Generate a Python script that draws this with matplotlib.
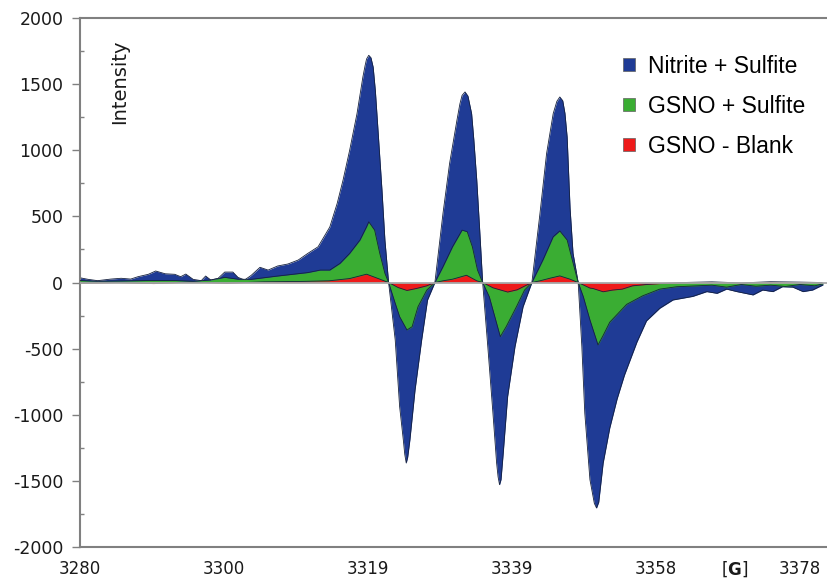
import matplotlib
matplotlib.use("Agg")
import matplotlib.pyplot as plt
from matplotlib.patches import Patch
from matplotlib.ticker import MultipleLocator

# ---- data ----
field_blue = [3280.0, 3281.1, 3282.4, 3284.2, 3285.6, 3286.9, 3287.9, 3289.3, 3290.3, 3291.6,
              3292.9, 3293.7, 3294.4, 3295.4, 3296.5, 3297.1, 3297.8, 3298.8, 3299.7, 3300.8,
              3301.5, 3302.4, 3303.3, 3304.5, 3305.6, 3306.9, 3308.3, 3309.7, 3311.0, 3312.4,
              3314.0, 3315.0, 3315.8, 3316.7, 3317.7, 3318.5, 3318.8, 3319.0, 3319.3, 3319.6,
              3319.9, 3320.2, 3320.5, 3321.1, 3321.5, 3322.0, 3322.9, 3323.5, 3324.0, 3324.2,
              3324.4, 3324.6, 3324.9, 3325.6, 3326.5, 3327.3, 3328.3, 3329.4, 3330.3, 3331.3,
              3331.7, 3332.0, 3332.4, 3332.8, 3333.3, 3333.6, 3334.0, 3334.4, 3334.8, 3335.5,
              3336.2, 3336.7, 3336.9, 3337.1, 3337.3, 3337.6, 3338.2, 3339.2, 3340.3, 3341.5,
              3342.6, 3343.5, 3344.4, 3344.9, 3345.3, 3345.7, 3346.0, 3346.3, 3346.7, 3347.1,
              3347.8, 3348.3, 3348.7, 3349.4, 3350.0, 3350.3, 3350.6, 3351.2, 3352.1, 3353.1,
              3354.1, 3355.8, 3357.1, 3358.9, 3360.7, 3363.4, 3365.3, 3366.7, 3368.0, 3369.4,
              3371.6, 3372.9, 3374.3, 3375.6, 3377.0, 3378.4, 3379.7, 3381.1]
nitrite_sulfite = [36, 24, 14, 26, 32, 26, 44, 62, 87, 66,
                   62, 44, 64, 24, 14, 49, 19, 32, 79, 79,
                   39, 19, 54, 115, 94, 125, 140, 170, 220, 270,
                   420, 598, 774, 1000, 1277, 1554, 1640, 1690, 1718, 1700,
                   1629, 1450, 1202, 698, 321, 0, -434, -938, -1189, -1300,
                   -1365, -1320, -1189, -812, -434, -132, 0, 522, 900, 1227,
                   1350, 1415, 1441, 1410, 1277, 1080, 774, 396, 0, -485,
                   -988, -1365, -1470, -1529, -1490, -1290, -862, -485, -183, 0,
                   522, 975, 1277, 1370, 1403, 1375, 1280, 1100, 560, 222,
                   0, -485, -988, -1491, -1670, -1705, -1660, -1365, -1100, -880,
                   -700, -450, -290, -195, -132, -105, -69, -82, -50, -69,
                   -94, -57, -69, -32, -35, -69, -57, -19]

field_green = [3280.0, 3282.4, 3285.6, 3289.3, 3292.9, 3295.4, 3297.8, 3299.7, 3301.5, 3303.3,
               3306.9, 3311.0, 3312.7, 3314.0, 3315.4, 3316.7, 3318.1, 3319.0, 3319.3, 3320.1,
               3320.8, 3321.5, 3322.0, 3322.9, 3323.5, 3324.5, 3325.2, 3326.0, 3327.2, 3328.3,
               3329.4, 3330.7, 3332.0, 3332.7, 3333.4, 3334.1, 3334.8, 3335.7, 3336.7, 3337.2,
               3338.0, 3339.4, 3340.5, 3341.5, 3343.0, 3344.4, 3345.3, 3346.3, 3347.0, 3347.8,
               3348.5, 3349.4, 3350.5, 3351.2, 3352.1, 3354.4, 3356.6, 3358.9, 3361.2, 3364.0,
               3366.0, 3368.0, 3370.0, 3372.0, 3374.0, 3376.0, 3378.0, 3380.0, 3381.1]
gsno_sulfite = [15, 10, 12, 15, 15, 10, 19, 39, 25, 24,
                49, 75, 94, 94, 145, 220, 321, 421, 459, 396,
                220, 69, 0, -157, -258, -359, -334, -183, -57, 0,
                119, 270, 396, 384, 270, 94, 0, -107, -308, -409,
                -334, -183, -57, 0, 170, 346, 390, 321, 170, 0,
                -107, -283, -472, -400, -300, -165, -100, -50, -32, -25,
                -20, -35, -15, -28, -20, -30, -15, -25, -10]

field_red = [3280.0, 3285.0, 3290.0, 3295.0, 3300.0, 3305.0, 3310.0, 3313.9, 3316.7, 3318.1,
             3319.0, 3320.3, 3322.0, 3323.3, 3324.5, 3325.8, 3327.2, 3328.3, 3329.4, 3330.7,
             3332.6, 3334.0, 3334.8, 3336.2, 3338.2, 3339.5, 3341.5, 3342.6, 3344.0, 3345.3,
             3346.7, 3347.8, 3349.4, 3349.8, 3351.2, 3352.5, 3353.8, 3355.2, 3357.1, 3358.9,
             3362.0, 3366.0, 3370.0, 3374.0, 3378.0, 3381.0]
gsno_blank = [-5, 0, -8, 3, -5, 5, 8, 13, 30, 50,
              63, 36, 0, -38, -60, -45, -25, 0, 13, 25,
              55, 13, 0, -40, -72, -55, 0, 13, 33, 50,
              25, 0, -42, -45, -70, -57, -50, -25, -15, -8,
              0, 5, -3, 6, 3, 0]

series_labels = ["Nitrite + Sulfite", "GSNO + Sulfite", "GSNO - Blank"]
series_colors = ["#1f3b95", "#3aad33", "#ee1a1a"]

x_tick_positions = [3280, 3299.6, 3319.2, 3338.8, 3358.4, 3369.1, 3378]
x_tick_labels = ["3280", "3300", "3319", "3339", "3358", r"[$\mathbf{G}$]", "3378"]
y_ticks = [-2000, -1500, -1000, -500, 0, 500, 1000, 1500, 2000]
y_tick_labels = ["-2000", "-1500", "-1000", "-500", "0", "500", "1000", "1500", "2000"]

# ---- figure ----
fig = plt.figure(figsize=(8.28, 5.81), dpi=100)
ax = fig.add_axes([0.0966, 0.0585, 0.9034, 0.9105])

series = [(field_blue, nitrite_sulfite), (field_green, gsno_sulfite), (field_red, gsno_blank)]
for i, ((xs, ys), col) in enumerate(zip(series, series_colors)):
    ax.fill_between(xs, 0, ys, color=col, linewidth=0, zorder=2 + i)
    ax.plot(xs, ys, color="#15213f", linewidth=0.6, zorder=2 + i)

ax.axhline(0, color="#a8a8a8", linewidth=1.3, zorder=6)

ax.set_xlim(3280, 3381.8)
ax.set_ylim(-2000, 2000)

ax.set_xticks(x_tick_positions)
ax.set_xticklabels(x_tick_labels)
ax.set_yticks(y_ticks)
ax.set_yticklabels(y_tick_labels)
ax.yaxis.set_minor_locator(MultipleLocator(250))

spine_col = "#808080"
for s in ["left", "bottom", "top"]:
    ax.spines[s].set_color(spine_col)
    ax.spines[s].set_linewidth(1.5)
ax.spines["right"].set_visible(False)

ax.tick_params(axis="x", length=0, pad=9, labelsize=12, labelcolor="#1a1a1a")
ax.tick_params(axis="y", which="major", direction="out", length=6, width=1.0,
               color=spine_col, pad=6, labelsize=12.5, labelcolor="#1a1a1a")
ax.tick_params(axis="y", which="minor", direction="in", length=3, width=1.0, color=spine_col)

ax.text(0.0535, 0.879, "Intensity", rotation=90, transform=ax.transAxes,
        ha="center", va="center", fontsize=14, color="#1a1a1a")

handles = [Patch(facecolor=c, edgecolor="#606060", linewidth=0.5) for c in series_colors]
leg = fig.legend(handles, series_labels, loc="upper left", bbox_to_anchor=(0.752, 0.906),
                 frameon=False, prop={"family": "Liberation Sans", "size": 16.5},
                 handlelength=0.55, handleheight=0.55, handletextpad=0.55,
                 labelspacing=0.74, borderpad=0, borderaxespad=0)

fig.savefig("out.png", dpi=100)
